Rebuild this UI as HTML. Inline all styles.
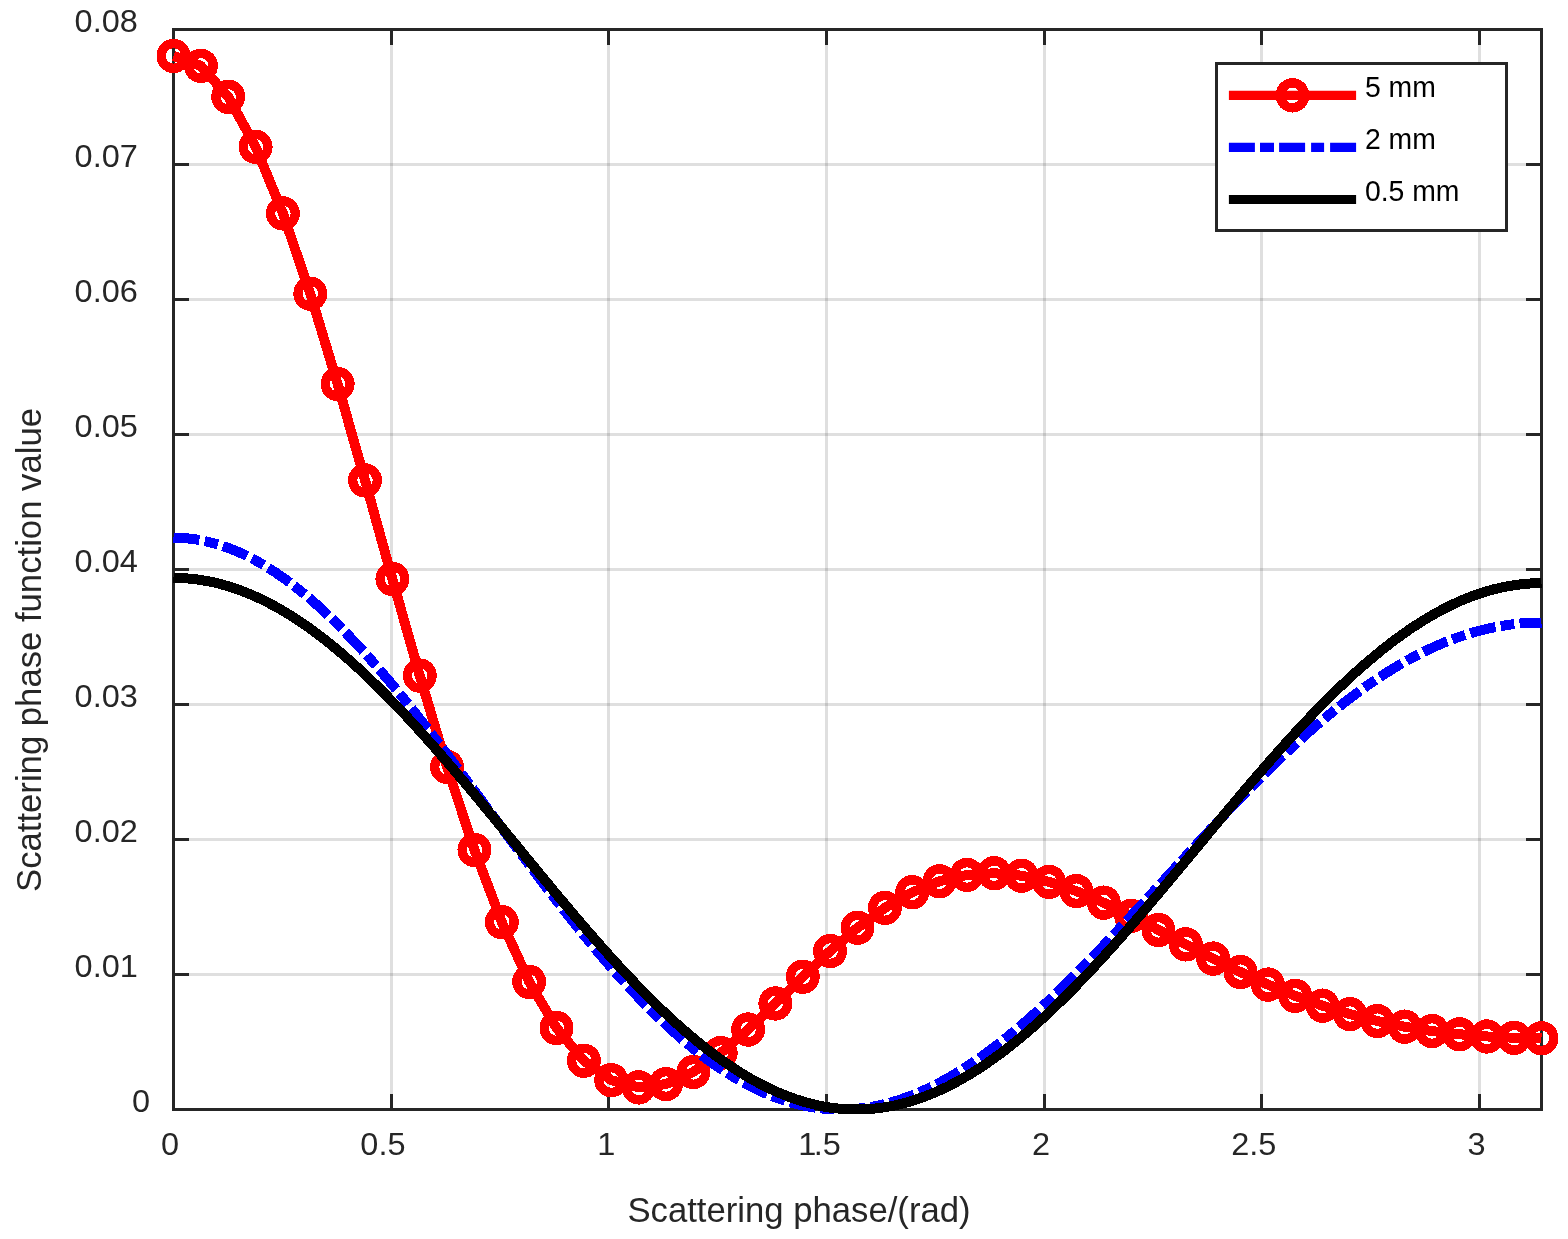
<!DOCTYPE html>
<html lang="en"><head><meta charset="utf-8"><title>Scattering phase function</title>
<style>html,body{margin:0;padding:0;background:#fff}body{width:1568px;height:1239px;overflow:hidden}svg{display:block}text{font-family:"Liberation Sans",Arial,Helvetica,sans-serif;fill:#262626}</style></head><body>
<svg width="1568" height="1239" viewBox="0 0 1568 1239">
<rect width="1568" height="1239" fill="#fff"/>
<path d="M391.5 29.5V1109.5M608.5 29.5V1109.5M826.5 29.5V1109.5M1044.5 29.5V1109.5M1261.5 29.5V1109.5M1479.5 29.5V1109.5" stroke="#262626" stroke-opacity="0.15" stroke-width="3" fill="none"/>
<path d="M173.5 974.5H1541.5M173.5 839.5H1541.5M173.5 704.5H1541.5M173.5 569.5H1541.5M173.5 434.5H1541.5M173.5 299.5H1541.5M173.5 164.5H1541.5" stroke="#262626" stroke-opacity="0.15" stroke-width="3" fill="none"/>
<rect x="173.50" y="29.50" width="1368.00" height="1080.00" fill="none" stroke="#262626" stroke-width="3.00"/>
<path d="M391.50 1109.50 v-15.50 M391.50 29.50 v15.50 M608.50 1109.50 v-15.50 M608.50 29.50 v15.50 M826.50 1109.50 v-15.50 M826.50 29.50 v15.50 M1044.50 1109.50 v-15.50 M1044.50 29.50 v15.50 M1261.50 1109.50 v-15.50 M1261.50 29.50 v15.50 M1479.50 1109.50 v-15.50 M1479.50 29.50 v15.50 M173.50 974.50 h15.50 M1541.50 974.50 h-15.50 M173.50 839.50 h15.50 M1541.50 839.50 h-15.50 M173.50 704.50 h15.50 M1541.50 704.50 h-15.50 M173.50 569.50 h15.50 M1541.50 569.50 h-15.50 M173.50 434.50 h15.50 M1541.50 434.50 h-15.50 M173.50 299.50 h15.50 M1541.50 299.50 h-15.50 M173.50 164.50 h15.50 M1541.50 164.50 h-15.50" stroke="#262626" stroke-width="3.00" fill="none"/>
<g font-size="31.25">
<text transform="translate(161.10 1154.60) scale(1.040 1)">0</text>
<text transform="translate(360.32 1154.60) scale(1.040 1)">0.5</text>
<text transform="translate(597.35 1154.60) scale(1.040 1)">1</text>
<text transform="translate(798.37 1154.60) scale(1.040 1)" x="0 14.88 23.56">1.5</text>
<text transform="translate(1032.00 1154.60) scale(1.040 1)">2</text>
<text transform="translate(1231.22 1154.60) scale(1.040 1)">2.5</text>
<text transform="translate(1467.44 1154.60) scale(1.040 1)">3</text>
<text transform="translate(132.10 1111.60) scale(1.040 1)">0</text>
<text transform="translate(74.60 976.60) scale(1.040 1)">0.01</text>
<text transform="translate(74.60 841.60) scale(1.040 1)">0.02</text>
<text transform="translate(74.60 706.60) scale(1.040 1)">0.03</text>
<text transform="translate(74.60 571.60) scale(1.040 1)">0.04</text>
<text transform="translate(74.60 436.60) scale(1.040 1)">0.05</text>
<text transform="translate(74.60 301.60) scale(1.040 1)">0.06</text>
<text transform="translate(74.60 166.60) scale(1.040 1)">0.07</text>
<text transform="translate(74.60 31.60) scale(1.040 1)">0.08</text>
</g>
<text transform="translate(627.4 1221.7) scale(1 1.035)" font-size="34.7">Scattering phase/(rad)</text>
<text transform="translate(40.9 892) rotate(-90) scale(1 1.035)" font-size="34.7">Scattering phase function value</text>
<g shape-rendering="crispEdges">
<g fill="none" stroke="#ff0000">
<path d="M173.50 55.90 L200.86 65.82 L228.22 96.78 L255.58 146.77 L282.94 213.43 L310.30 293.71 L337.66 384.01 L365.02 480.42 L392.38 578.91 L419.74 675.60 L447.10 766.96 L474.46 849.93 L501.82 922.11 L529.18 981.80 L556.54 1028.06 L583.90 1060.68 L611.26 1080.11 L638.62 1087.40 L665.98 1084.06 L693.34 1071.93 L720.70 1053.05 L748.06 1029.55 L775.42 1003.47 L802.78 976.74 L830.14 951.02 L857.50 927.72 L884.86 907.88 L912.22 892.25 L939.58 881.23 L966.94 874.94 L994.30 873.22 L1021.66 875.71 L1049.02 881.88 L1076.38 891.09 L1103.74 902.64 L1131.10 915.82 L1158.46 929.94 L1185.82 944.37 L1213.18 958.57 L1240.54 972.10 L1267.90 984.60 L1295.26 995.84 L1322.62 1005.68 L1349.98 1014.08 L1377.34 1021.05 L1404.70 1026.66 L1432.06 1031.02 L1459.42 1034.26 L1486.78 1036.47 L1514.14 1037.76 L1541.50 1038.18" stroke-width="10.00" stroke-linejoin="round"/>
</g>
<g fill="#ff0000" fill-rule="evenodd">
<path d="M156.50 55.90a17.00 17.20 0 1 0 34.00 0a17.00 17.20 0 1 0 -34.00 0zM165.80 55.90a7.70 7.70 0 1 1 15.40 0a7.70 7.70 0 1 1 -15.40 0z"/>
<path d="M183.86 65.82a17.00 17.20 0 1 0 34.00 0a17.00 17.20 0 1 0 -34.00 0zM193.16 65.82a7.70 7.70 0 1 1 15.40 0a7.70 7.70 0 1 1 -15.40 0z"/>
<path d="M211.22 96.78a17.00 17.20 0 1 0 34.00 0a17.00 17.20 0 1 0 -34.00 0zM220.52 96.78a7.70 7.70 0 1 1 15.40 0a7.70 7.70 0 1 1 -15.40 0z"/>
<path d="M238.58 146.77a17.00 17.20 0 1 0 34.00 0a17.00 17.20 0 1 0 -34.00 0zM247.88 146.77a7.70 7.70 0 1 1 15.40 0a7.70 7.70 0 1 1 -15.40 0z"/>
<path d="M265.94 213.43a17.00 17.20 0 1 0 34.00 0a17.00 17.20 0 1 0 -34.00 0zM275.24 213.43a7.70 7.70 0 1 1 15.40 0a7.70 7.70 0 1 1 -15.40 0z"/>
<path d="M293.30 293.71a17.00 17.20 0 1 0 34.00 0a17.00 17.20 0 1 0 -34.00 0zM302.60 293.71a7.70 7.70 0 1 1 15.40 0a7.70 7.70 0 1 1 -15.40 0z"/>
<path d="M320.66 384.01a17.00 17.20 0 1 0 34.00 0a17.00 17.20 0 1 0 -34.00 0zM329.96 384.01a7.70 7.70 0 1 1 15.40 0a7.70 7.70 0 1 1 -15.40 0z"/>
<path d="M348.02 480.42a17.00 17.20 0 1 0 34.00 0a17.00 17.20 0 1 0 -34.00 0zM357.32 480.42a7.70 7.70 0 1 1 15.40 0a7.70 7.70 0 1 1 -15.40 0z"/>
<path d="M375.38 578.91a17.00 17.20 0 1 0 34.00 0a17.00 17.20 0 1 0 -34.00 0zM384.68 578.91a7.70 7.70 0 1 1 15.40 0a7.70 7.70 0 1 1 -15.40 0z"/>
<path d="M402.74 675.60a17.00 17.20 0 1 0 34.00 0a17.00 17.20 0 1 0 -34.00 0zM412.04 675.60a7.70 7.70 0 1 1 15.40 0a7.70 7.70 0 1 1 -15.40 0z"/>
<path d="M430.10 766.96a17.00 17.20 0 1 0 34.00 0a17.00 17.20 0 1 0 -34.00 0zM439.40 766.96a7.70 7.70 0 1 1 15.40 0a7.70 7.70 0 1 1 -15.40 0z"/>
<path d="M457.46 849.93a17.00 17.20 0 1 0 34.00 0a17.00 17.20 0 1 0 -34.00 0zM466.76 849.93a7.70 7.70 0 1 1 15.40 0a7.70 7.70 0 1 1 -15.40 0z"/>
<path d="M484.82 922.11a17.00 17.20 0 1 0 34.00 0a17.00 17.20 0 1 0 -34.00 0zM494.12 922.11a7.70 7.70 0 1 1 15.40 0a7.70 7.70 0 1 1 -15.40 0z"/>
<path d="M512.18 981.80a17.00 17.20 0 1 0 34.00 0a17.00 17.20 0 1 0 -34.00 0zM521.48 981.80a7.70 7.70 0 1 1 15.40 0a7.70 7.70 0 1 1 -15.40 0z"/>
<path d="M539.54 1028.06a17.00 17.20 0 1 0 34.00 0a17.00 17.20 0 1 0 -34.00 0zM548.84 1028.06a7.70 7.70 0 1 1 15.40 0a7.70 7.70 0 1 1 -15.40 0z"/>
<path d="M566.90 1060.68a17.00 17.20 0 1 0 34.00 0a17.00 17.20 0 1 0 -34.00 0zM576.20 1060.68a7.70 7.70 0 1 1 15.40 0a7.70 7.70 0 1 1 -15.40 0z"/>
<path d="M594.26 1080.11a17.00 17.20 0 1 0 34.00 0a17.00 17.20 0 1 0 -34.00 0zM603.56 1080.11a7.70 7.70 0 1 1 15.40 0a7.70 7.70 0 1 1 -15.40 0z"/>
<path d="M621.62 1087.40a17.00 17.20 0 1 0 34.00 0a17.00 17.20 0 1 0 -34.00 0zM630.92 1087.40a7.70 7.70 0 1 1 15.40 0a7.70 7.70 0 1 1 -15.40 0z"/>
<path d="M648.98 1084.06a17.00 17.20 0 1 0 34.00 0a17.00 17.20 0 1 0 -34.00 0zM658.28 1084.06a7.70 7.70 0 1 1 15.40 0a7.70 7.70 0 1 1 -15.40 0z"/>
<path d="M676.34 1071.93a17.00 17.20 0 1 0 34.00 0a17.00 17.20 0 1 0 -34.00 0zM685.64 1071.93a7.70 7.70 0 1 1 15.40 0a7.70 7.70 0 1 1 -15.40 0z"/>
<path d="M703.70 1053.05a17.00 17.20 0 1 0 34.00 0a17.00 17.20 0 1 0 -34.00 0zM713.00 1053.05a7.70 7.70 0 1 1 15.40 0a7.70 7.70 0 1 1 -15.40 0z"/>
<path d="M731.06 1029.55a17.00 17.20 0 1 0 34.00 0a17.00 17.20 0 1 0 -34.00 0zM740.36 1029.55a7.70 7.70 0 1 1 15.40 0a7.70 7.70 0 1 1 -15.40 0z"/>
<path d="M758.42 1003.47a17.00 17.20 0 1 0 34.00 0a17.00 17.20 0 1 0 -34.00 0zM767.72 1003.47a7.70 7.70 0 1 1 15.40 0a7.70 7.70 0 1 1 -15.40 0z"/>
<path d="M785.78 976.74a17.00 17.20 0 1 0 34.00 0a17.00 17.20 0 1 0 -34.00 0zM795.08 976.74a7.70 7.70 0 1 1 15.40 0a7.70 7.70 0 1 1 -15.40 0z"/>
<path d="M813.14 951.02a17.00 17.20 0 1 0 34.00 0a17.00 17.20 0 1 0 -34.00 0zM822.44 951.02a7.70 7.70 0 1 1 15.40 0a7.70 7.70 0 1 1 -15.40 0z"/>
<path d="M840.50 927.72a17.00 17.20 0 1 0 34.00 0a17.00 17.20 0 1 0 -34.00 0zM849.80 927.72a7.70 7.70 0 1 1 15.40 0a7.70 7.70 0 1 1 -15.40 0z"/>
<path d="M867.86 907.88a17.00 17.20 0 1 0 34.00 0a17.00 17.20 0 1 0 -34.00 0zM877.16 907.88a7.70 7.70 0 1 1 15.40 0a7.70 7.70 0 1 1 -15.40 0z"/>
<path d="M895.22 892.25a17.00 17.20 0 1 0 34.00 0a17.00 17.20 0 1 0 -34.00 0zM904.52 892.25a7.70 7.70 0 1 1 15.40 0a7.70 7.70 0 1 1 -15.40 0z"/>
<path d="M922.58 881.23a17.00 17.20 0 1 0 34.00 0a17.00 17.20 0 1 0 -34.00 0zM931.88 881.23a7.70 7.70 0 1 1 15.40 0a7.70 7.70 0 1 1 -15.40 0z"/>
<path d="M949.94 874.94a17.00 17.20 0 1 0 34.00 0a17.00 17.20 0 1 0 -34.00 0zM959.24 874.94a7.70 7.70 0 1 1 15.40 0a7.70 7.70 0 1 1 -15.40 0z"/>
<path d="M977.30 873.22a17.00 17.20 0 1 0 34.00 0a17.00 17.20 0 1 0 -34.00 0zM986.60 873.22a7.70 7.70 0 1 1 15.40 0a7.70 7.70 0 1 1 -15.40 0z"/>
<path d="M1004.66 875.71a17.00 17.20 0 1 0 34.00 0a17.00 17.20 0 1 0 -34.00 0zM1013.96 875.71a7.70 7.70 0 1 1 15.40 0a7.70 7.70 0 1 1 -15.40 0z"/>
<path d="M1032.02 881.88a17.00 17.20 0 1 0 34.00 0a17.00 17.20 0 1 0 -34.00 0zM1041.32 881.88a7.70 7.70 0 1 1 15.40 0a7.70 7.70 0 1 1 -15.40 0z"/>
<path d="M1059.38 891.09a17.00 17.20 0 1 0 34.00 0a17.00 17.20 0 1 0 -34.00 0zM1068.68 891.09a7.70 7.70 0 1 1 15.40 0a7.70 7.70 0 1 1 -15.40 0z"/>
<path d="M1086.74 902.64a17.00 17.20 0 1 0 34.00 0a17.00 17.20 0 1 0 -34.00 0zM1096.04 902.64a7.70 7.70 0 1 1 15.40 0a7.70 7.70 0 1 1 -15.40 0z"/>
<path d="M1114.10 915.82a17.00 17.20 0 1 0 34.00 0a17.00 17.20 0 1 0 -34.00 0zM1123.40 915.82a7.70 7.70 0 1 1 15.40 0a7.70 7.70 0 1 1 -15.40 0z"/>
<path d="M1141.46 929.94a17.00 17.20 0 1 0 34.00 0a17.00 17.20 0 1 0 -34.00 0zM1150.76 929.94a7.70 7.70 0 1 1 15.40 0a7.70 7.70 0 1 1 -15.40 0z"/>
<path d="M1168.82 944.37a17.00 17.20 0 1 0 34.00 0a17.00 17.20 0 1 0 -34.00 0zM1178.12 944.37a7.70 7.70 0 1 1 15.40 0a7.70 7.70 0 1 1 -15.40 0z"/>
<path d="M1196.18 958.57a17.00 17.20 0 1 0 34.00 0a17.00 17.20 0 1 0 -34.00 0zM1205.48 958.57a7.70 7.70 0 1 1 15.40 0a7.70 7.70 0 1 1 -15.40 0z"/>
<path d="M1223.54 972.10a17.00 17.20 0 1 0 34.00 0a17.00 17.20 0 1 0 -34.00 0zM1232.84 972.10a7.70 7.70 0 1 1 15.40 0a7.70 7.70 0 1 1 -15.40 0z"/>
<path d="M1250.90 984.60a17.00 17.20 0 1 0 34.00 0a17.00 17.20 0 1 0 -34.00 0zM1260.20 984.60a7.70 7.70 0 1 1 15.40 0a7.70 7.70 0 1 1 -15.40 0z"/>
<path d="M1278.26 995.84a17.00 17.20 0 1 0 34.00 0a17.00 17.20 0 1 0 -34.00 0zM1287.56 995.84a7.70 7.70 0 1 1 15.40 0a7.70 7.70 0 1 1 -15.40 0z"/>
<path d="M1305.62 1005.68a17.00 17.20 0 1 0 34.00 0a17.00 17.20 0 1 0 -34.00 0zM1314.92 1005.68a7.70 7.70 0 1 1 15.40 0a7.70 7.70 0 1 1 -15.40 0z"/>
<path d="M1332.98 1014.08a17.00 17.20 0 1 0 34.00 0a17.00 17.20 0 1 0 -34.00 0zM1342.28 1014.08a7.70 7.70 0 1 1 15.40 0a7.70 7.70 0 1 1 -15.40 0z"/>
<path d="M1360.34 1021.05a17.00 17.20 0 1 0 34.00 0a17.00 17.20 0 1 0 -34.00 0zM1369.64 1021.05a7.70 7.70 0 1 1 15.40 0a7.70 7.70 0 1 1 -15.40 0z"/>
<path d="M1387.70 1026.66a17.00 17.20 0 1 0 34.00 0a17.00 17.20 0 1 0 -34.00 0zM1397.00 1026.66a7.70 7.70 0 1 1 15.40 0a7.70 7.70 0 1 1 -15.40 0z"/>
<path d="M1415.06 1031.02a17.00 17.20 0 1 0 34.00 0a17.00 17.20 0 1 0 -34.00 0zM1424.36 1031.02a7.70 7.70 0 1 1 15.40 0a7.70 7.70 0 1 1 -15.40 0z"/>
<path d="M1442.42 1034.26a17.00 17.20 0 1 0 34.00 0a17.00 17.20 0 1 0 -34.00 0zM1451.72 1034.26a7.70 7.70 0 1 1 15.40 0a7.70 7.70 0 1 1 -15.40 0z"/>
<path d="M1469.78 1036.47a17.00 17.20 0 1 0 34.00 0a17.00 17.20 0 1 0 -34.00 0zM1479.08 1036.47a7.70 7.70 0 1 1 15.40 0a7.70 7.70 0 1 1 -15.40 0z"/>
<path d="M1497.14 1037.76a17.00 17.20 0 1 0 34.00 0a17.00 17.20 0 1 0 -34.00 0zM1506.44 1037.76a7.70 7.70 0 1 1 15.40 0a7.70 7.70 0 1 1 -15.40 0z"/>
<path d="M1524.50 1038.18a17.00 17.20 0 1 0 34.00 0a17.00 17.20 0 1 0 -34.00 0zM1533.80 1038.18a7.70 7.70 0 1 1 15.40 0a7.70 7.70 0 1 1 -15.40 0z"/>
</g>
<path d="M173.50 537.73 L180.34 537.89 L187.18 538.37 L194.02 539.16 L200.86 540.28 L207.70 541.71 L214.54 543.46 L221.38 545.52 L228.22 547.89 L235.06 550.57 L241.90 553.55 L248.74 556.83 L255.58 560.41 L262.42 564.27 L269.26 568.43 L276.10 572.87 L282.94 577.58 L289.78 582.56 L296.62 587.81 L303.46 593.31 L310.30 599.06 L317.14 605.06 L323.98 611.30 L330.82 617.76 L337.66 624.44 L344.50 631.34 L351.34 638.45 L358.18 645.75 L365.02 653.23 L371.86 660.90 L378.70 668.74 L385.54 676.73 L392.38 684.88 L399.22 693.17 L406.06 701.60 L412.90 710.14 L419.74 718.81 L426.58 727.57 L433.42 736.43 L440.26 745.37 L447.10 754.38 L453.94 763.46 L460.78 772.59 L467.62 781.77 L474.46 790.98 L481.30 800.22 L488.14 809.47 L494.98 818.72 L501.82 827.97 L508.66 837.20 L515.50 846.41 L522.34 855.58 L529.18 864.71 L536.02 873.79 L542.86 882.80 L549.70 891.75 L556.54 900.61 L563.38 909.38 L570.22 918.05 L577.06 926.62 L583.90 935.08 L590.74 943.41 L597.58 951.60 L604.42 959.66 L611.26 967.58 L618.10 975.34 L624.94 982.93 L631.78 990.36 L638.62 997.62 L645.46 1004.69 L652.30 1011.57 L659.14 1018.26 L665.98 1024.75 L672.82 1031.04 L679.66 1037.11 L686.50 1042.96 L693.34 1048.59 L700.18 1054.00 L707.02 1059.17 L713.86 1064.11 L720.70 1068.81 L727.54 1073.27 L734.38 1077.48 L741.22 1081.44 L748.06 1085.15 L754.90 1088.60 L761.74 1091.79 L768.58 1094.73 L775.42 1097.40 L782.26 1099.80 L789.10 1101.95 L795.94 1103.82 L802.78 1105.43 L809.62 1106.77 L816.46 1107.85 L823.30 1108.65 L830.14 1109.19 L836.98 1109.46 L843.82 1109.47 L850.66 1109.21 L857.50 1108.69 L864.34 1107.90 L871.18 1106.85 L878.02 1105.55 L884.86 1103.99 L891.70 1102.18 L898.54 1100.12 L905.38 1097.81 L912.22 1095.25 L919.06 1092.46 L925.90 1089.43 L932.74 1086.17 L939.58 1082.68 L946.42 1078.97 L953.26 1075.04 L960.10 1070.90 L966.94 1066.54 L973.78 1061.99 L980.62 1057.24 L987.46 1052.30 L994.30 1047.17 L1001.14 1041.87 L1007.98 1036.39 L1014.82 1030.74 L1021.66 1024.93 L1028.50 1018.98 L1035.34 1012.87 L1042.18 1006.63 L1049.02 1000.25 L1055.86 993.75 L1062.70 987.13 L1069.54 980.39 L1076.38 973.56 L1083.22 966.63 L1090.06 959.61 L1096.90 952.51 L1103.74 945.33 L1110.58 938.09 L1117.42 930.79 L1124.26 923.44 L1131.10 916.05 L1137.94 908.62 L1144.78 901.17 L1151.62 893.69 L1158.46 886.20 L1165.30 878.70 L1172.14 871.20 L1178.98 863.71 L1185.82 856.24 L1192.66 848.79 L1199.50 841.37 L1206.34 833.99 L1213.18 826.65 L1220.02 819.36 L1226.86 812.12 L1233.70 804.95 L1240.54 797.85 L1247.38 790.82 L1254.22 783.88 L1261.06 777.02 L1267.90 770.25 L1274.74 763.58 L1281.58 757.02 L1288.42 750.56 L1295.26 744.22 L1302.10 738.00 L1308.94 731.90 L1315.78 725.93 L1322.62 720.10 L1329.46 714.40 L1336.30 708.84 L1343.14 703.43 L1349.98 698.17 L1356.82 693.06 L1363.66 688.10 L1370.50 683.31 L1377.34 678.68 L1384.18 674.22 L1391.02 669.93 L1397.86 665.81 L1404.70 661.86 L1411.54 658.09 L1418.38 654.50 L1425.22 651.09 L1432.06 647.87 L1438.90 644.83 L1445.74 641.98 L1452.58 639.32 L1459.42 636.85 L1466.26 634.57 L1473.10 632.49 L1479.94 630.60 L1486.78 628.91 L1493.62 627.41 L1500.46 626.11 L1507.30 625.01 L1514.14 624.11 L1520.98 623.41 L1527.82 622.91 L1534.66 622.61 L1541.50 622.51" fill="none" stroke="#0000ff" stroke-width="10.00" stroke-dasharray="26.04 5.31 13.72 5.31" stroke-linejoin="round"/>
<path d="M173.50 577.89 L180.34 578.02 L187.18 578.42 L194.02 579.07 L200.86 579.99 L207.70 581.17 L214.54 582.61 L221.38 584.31 L228.22 586.26 L235.06 588.47 L241.90 590.93 L248.74 593.64 L255.58 596.59 L262.42 599.80 L269.26 603.24 L276.10 606.92 L282.94 610.84 L289.78 614.98 L296.62 619.35 L303.46 623.95 L310.30 628.76 L317.14 633.78 L323.98 639.02 L330.82 644.45 L337.66 650.08 L344.50 655.91 L351.34 661.92 L358.18 668.11 L365.02 674.47 L371.86 681.00 L378.70 687.69 L385.54 694.54 L392.38 701.54 L399.22 708.67 L406.06 715.94 L412.90 723.34 L419.74 730.85 L426.58 738.48 L433.42 746.21 L440.26 754.04 L447.10 761.96 L453.94 769.96 L460.78 778.03 L467.62 786.17 L474.46 794.36 L481.30 802.61 L488.14 810.89 L494.98 819.21 L501.82 827.55 L508.66 835.91 L515.50 844.27 L522.34 852.64 L529.18 861.00 L536.02 869.34 L542.86 877.65 L549.70 885.93 L556.54 894.17 L563.38 902.36 L570.22 910.49 L577.06 918.55 L583.90 926.55 L590.74 934.45 L597.58 942.27 L604.42 949.99 L611.26 957.61 L618.10 965.11 L624.94 972.50 L631.78 979.75 L638.62 986.87 L645.46 993.85 L652.30 1000.68 L659.14 1007.35 L665.98 1013.86 L672.82 1020.20 L679.66 1026.37 L686.50 1032.36 L693.34 1038.16 L700.18 1043.76 L707.02 1049.17 L713.86 1054.38 L720.70 1059.37 L727.54 1064.15 L734.38 1068.71 L741.22 1073.05 L748.06 1077.17 L754.90 1081.05 L761.74 1084.69 L768.58 1088.10 L775.42 1091.27 L782.26 1094.19 L789.10 1096.86 L795.94 1099.28 L802.78 1101.45 L809.62 1103.36 L816.46 1105.02 L823.30 1106.42 L830.14 1107.56 L836.98 1108.44 L843.82 1109.05 L850.66 1109.41 L857.50 1109.50 L864.34 1109.33 L871.18 1108.89 L878.02 1108.20 L884.86 1107.24 L891.70 1106.03 L898.54 1104.56 L905.38 1102.82 L912.22 1100.84 L919.06 1098.60 L925.90 1096.11 L932.74 1093.37 L939.58 1090.39 L946.42 1087.17 L953.26 1083.70 L960.10 1080.00 L966.94 1076.07 L973.78 1071.91 L980.62 1067.53 L987.46 1062.93 L994.30 1058.12 L1001.14 1053.09 L1007.98 1047.86 L1014.82 1042.44 L1021.66 1036.82 L1028.50 1031.01 L1035.34 1025.02 L1042.18 1018.85 L1049.02 1012.51 L1055.86 1006.01 L1062.70 999.35 L1069.54 992.55 L1076.38 985.59 L1083.22 978.51 L1090.06 971.29 L1096.90 963.95 L1103.74 956.49 L1110.58 948.93 L1117.42 941.27 L1124.26 933.51 L1131.10 925.68 L1137.94 917.76 L1144.78 909.77 L1151.62 901.72 L1158.46 893.62 L1165.30 885.48 L1172.14 877.29 L1178.98 869.08 L1185.82 860.85 L1192.66 852.60 L1199.50 844.35 L1206.34 836.10 L1213.18 827.86 L1220.02 819.64 L1226.86 811.45 L1233.70 803.30 L1240.54 795.19 L1247.38 787.13 L1254.22 779.12 L1261.06 771.19 L1267.90 763.33 L1274.74 755.55 L1281.58 747.86 L1288.42 740.27 L1295.26 732.79 L1302.10 725.42 L1308.94 718.16 L1315.78 711.03 L1322.62 704.04 L1329.46 697.19 L1336.30 690.48 L1343.14 683.92 L1349.98 677.53 L1356.82 671.30 L1363.66 665.24 L1370.50 659.36 L1377.34 653.66 L1384.18 648.15 L1391.02 642.84 L1397.86 637.72 L1404.70 632.81 L1411.54 628.11 L1418.38 623.62 L1425.22 619.35 L1432.06 615.30 L1438.90 611.47 L1445.74 607.88 L1452.58 604.51 L1459.42 601.39 L1466.26 598.50 L1473.10 595.85 L1479.94 593.45 L1486.78 591.30 L1493.62 589.39 L1500.46 587.73 L1507.30 586.33 L1514.14 585.18 L1520.98 584.28 L1527.82 583.64 L1534.66 583.26 L1541.50 583.13" fill="none" stroke="#000" stroke-width="10.00" stroke-linejoin="round"/>
</g>
<rect x="1216.50" y="63.50" width="290.00" height="167.00" fill="#fff" stroke="#262626" stroke-width="3"/>
<path d="M1228.90 95.4 H1356.10" stroke="#ff0000" stroke-width="9.1" fill="none"/>
<path fill="#ff0000" fill-rule="evenodd" shape-rendering="crispEdges" d="M1275.50 95.40a17.00 17.20 0 1 0 34.00 0a17.00 17.20 0 1 0 -34.00 0zM1284.80 95.40a7.70 7.70 0 1 1 15.40 0a7.70 7.70 0 1 1 -15.40 0z"/>
<path d="M1228.90 147.4 H1356.10" stroke="#0000ff" stroke-width="9.1" stroke-dasharray="26 5.1 14 5.1 26 6 13 6 26.2" fill="none"/>
<path d="M1228.90 199.5 H1356.10" stroke="#000" stroke-width="9.1" fill="none"/>
<g font-size="28.1" style="fill:#000">
<text transform="translate(1364.9 96.9) scale(1.01 1.04)" style="fill:#000">5 mm</text>
<text transform="translate(1364.9 148.6) scale(1.01 1.04)" style="fill:#000">2 mm</text>
<text transform="translate(1364.9 200.7) scale(1.01 1.04)" style="fill:#000">0.5 mm</text>
</g>
</svg></body></html>
